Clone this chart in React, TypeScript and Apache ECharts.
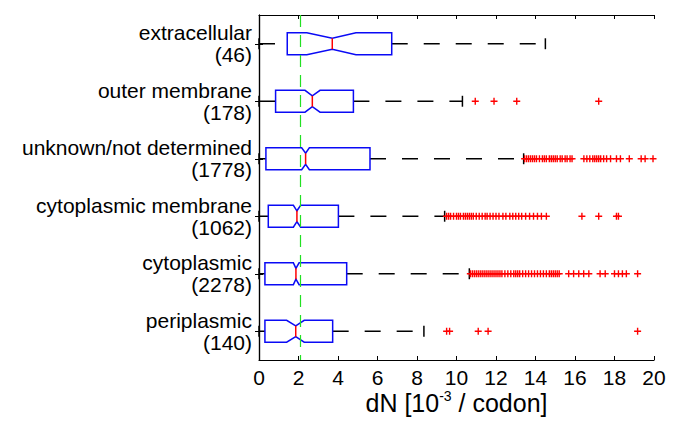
import React, { useEffect, useRef } from "react";
import * as echarts from "echarts";

// ---- data ----
const categories = [
  "extracellular\n(46)",
  "outer membrane\n(178)",
  "unknown/not determined\n(1778)",
  "cytoplasmic membrane\n(1062)",
  "cytoplasmic\n(2278)",
  "periplasmic\n(140)",
];
const lowerWhisker = [0, 0, 0, 0, 0, 0];
const q1 = [1.43, 0.84, 0.35, 0.47, 0.3, 0.3];
const notchLow = [2.42, 2.33, 2.16, 1.74, 1.74, 1.4];
const median = [3.71, 2.7, 2.36, 1.92, 1.87, 1.86];
const notchHigh = [4.91, 3.09, 2.55, 2.11, 2.03, 2.29];
const q3 = [6.72, 4.78, 5.62, 4.02, 4.44, 3.73];
const upperWhisker = [14.5, 10.3, 13.4, 9.4, 10.65, 8.35];

const outliersExtracellular: number[] = [];
const outliersOuterMembrane = [10.95, 11.9, 13.05, 17.2];
const outliersUnknown = [
  13.45, 13.55, 13.65, 13.75, 13.85, 13.95, 14.05, 14.2, 14.35, 14.45, 14.55, 14.7, 14.8, 14.9,
  15.0, 15.1, 15.25, 15.35, 15.5, 15.6, 15.75, 15.85, 16.45, 16.6, 16.75, 16.9, 17.0, 17.1,
  17.2, 17.3, 17.45, 17.6, 17.8, 18.1, 18.3, 18.75, 19.35, 19.55, 19.95,
];
const outliersCytoMembrane = [
  9.5, 9.6, 9.7, 9.85, 10.0, 10.1, 10.2, 10.35, 10.45, 10.55, 10.65, 10.75, 10.85, 11.0, 11.15,
  11.3, 11.45, 11.55, 11.7, 11.85, 12.0, 12.15, 12.35, 12.5, 12.7, 12.85, 13.0, 13.15, 13.3,
  13.5, 13.7, 13.9, 14.1, 14.3, 14.55, 16.35, 17.2, 18.1, 18.2,
];
const outliersCytoplasmic = [
  10.7, 10.8, 10.9, 11.0, 11.1, 11.2, 11.3, 11.4, 11.5, 11.6, 11.7, 11.8, 11.9, 12.0, 12.1,
  12.2, 12.3, 12.45, 12.6, 12.75, 12.9, 13.0, 13.1, 13.2, 13.35, 13.5, 13.65, 13.8, 13.95,
  14.1, 14.25, 14.4, 14.55, 14.7, 14.8, 14.9, 15.0, 15.1, 15.2, 15.68, 15.93, 16.19, 16.44,
  16.7, 17.27, 17.53, 18.0, 18.2, 18.4, 18.6, 19.17,
];
const outliersPeriplasmic = [9.5, 9.65, 11.1, 11.6, 19.17];
const outliers = [
  outliersExtracellular,
  outliersOuterMembrane,
  outliersUnknown,
  outliersCytoMembrane,
  outliersCytoplasmic,
  outliersPeriplasmic,
];
const referenceLine = 2.1;
const xMin = 0;
const xMax = 20;
const xInterval = 2;
const xTitle = "{n|dN [10}{s|-3}{n| / codon]}";

const FONT = "'Liberation Sans', Arial, Helvetica, sans-serif";

export default function App() {
  const ref = useRef<HTMLDivElement>(null);

  useEffect(() => {
    if (!ref.current) return;
    const chart = echarts.init(ref.current, null, { renderer: "svg" });

    const boxData = categories.map((_, i) => [
      i,
      lowerWhisker[i],
      q1[i],
      notchLow[i],
      median[i],
      notchHigh[i],
      q3[i],
      upperWhisker[i],
    ]);
    const outlierData: number[][] = [];
    outliers.forEach((arr, i) => arr.forEach((v) => outlierData.push([v, i])));

    const renderItem = (params: any, api: any) => {
      const idx = api.value(0);
      const c = (v: number) => api.coord([v, idx]);
      const band = api.size([0, 1])[1];
      const h = band * 0.19;
      const hn = h / 2;
      const [xLw, yc] = c(api.value(1));
      const xQ1 = c(api.value(2))[0];
      const xNL = c(api.value(3))[0];
      const xMed = c(api.value(4))[0];
      const xNH = c(api.value(5))[0];
      const xQ3 = c(api.value(6))[0];
      const xUw = c(api.value(7))[0];
      const blue = "#0a0af5";
      const wStyle = { stroke: "#000", lineWidth: 1.5, lineDash: [16, 16] };
      return {
        type: "group",
        children: [
          {
            type: "line",
            shape: { x1: xLw, y1: yc, x2: xQ1, y2: yc },
            style: wStyle,
          },
          {
            type: "line",
            shape: { x1: xQ3, y1: yc, x2: xUw, y2: yc },
            style: wStyle,
          },
          {
            type: "line",
            shape: { x1: xLw, y1: yc - hn, x2: xLw, y2: yc + hn },
            style: { stroke: "#000", lineWidth: 1.5 },
          },
          {
            type: "line",
            shape: { x1: xUw, y1: yc - hn, x2: xUw, y2: yc + hn },
            style: { stroke: "#000", lineWidth: 1.5 },
          },
          {
            type: "polygon",
            shape: {
              points: [
                [xQ1, yc - h],
                [xNL, yc - h],
                [xMed, yc - hn],
                [xNH, yc - h],
                [xQ3, yc - h],
                [xQ3, yc + h],
                [xNH, yc + h],
                [xMed, yc + hn],
                [xNL, yc + h],
                [xQ1, yc + h],
              ],
            },
            style: { stroke: blue, fill: "none", lineWidth: 1.5 },
          },
          {
            type: "line",
            shape: { x1: xMed, y1: yc - hn, x2: xMed, y2: yc + hn },
            style: { stroke: "#ff0000", lineWidth: 1.5 },
          },
        ],
      };
    };

    const labelStyle = { color: "#000", fontFamily: FONT, fontSize: 21 };

    chart.setOption({
      animation: false,
      backgroundColor: "#fff",
      grid: { left: 259, right: 31, top: 15, bottom: 74, containLabel: false },
      xAxis: [
        {
          type: "value",
          min: xMin,
          max: xMax,
          interval: xInterval,
          position: "bottom",
          axisLine: { show: true, lineStyle: { color: "#000", width: 1.2 } },
          axisTick: { show: true, inside: true, length: 4, lineStyle: { color: "#000" } },
          axisLabel: { ...labelStyle, margin: 7 },
          splitLine: { show: false },
        },
        {
          type: "value",
          min: xMin,
          max: xMax,
          interval: xInterval,
          position: "top",
          axisLine: { show: true, lineStyle: { color: "#000", width: 1.2 } },
          axisTick: { show: true, inside: true, length: 4, lineStyle: { color: "#000" } },
          axisLabel: { show: false },
          splitLine: { show: false },
        },
      ],
      yAxis: [
        {
          type: "category",
          data: categories,
          inverse: true,
          position: "left",
          axisLine: { show: true, lineStyle: { color: "#000", width: 1.2 } },
          axisTick: { show: true, inside: true, length: 4, alignWithLabel: true, lineStyle: { color: "#000" } },
          axisLabel: { ...labelStyle, lineHeight: 22, margin: 7, align: "right" },
          splitLine: { show: false },
        },
        {
          type: "category",
          data: categories,
          inverse: true,
          position: "right",
          axisLine: { show: true, lineStyle: { color: "#000", width: 1.2 } },
          axisTick: { show: true, inside: true, length: 4, alignWithLabel: true, lineStyle: { color: "#000" } },
          axisLabel: { show: false },
          splitLine: { show: false },
        },
      ],
      graphic: [
        {
          type: "text",
          x: 456.5,
          y: 403,
          style: {
            text: xTitle,
            textAlign: "center",
            textVerticalAlign: "middle",
            fill: "#000",
            rich: {
              n: { fontFamily: FONT, fontSize: 25, lineHeight: 28, verticalAlign: "middle", fill: "#000" },
              s: { fontFamily: FONT, fontSize: 14, lineHeight: 14, verticalAlign: "top", fill: "#000" },
            },
          },
        },
      ],
      series: [
        {
          type: "custom",
          xAxisIndex: 0,
          yAxisIndex: 0,
          data: boxData,
          encode: { x: [1, 2, 3, 4, 5, 6, 7], y: 0 },
          renderItem,
          silent: true,
          z: 2,
        },
        {
          type: "scatter",
          xAxisIndex: 0,
          yAxisIndex: 0,
          data: outlierData,
          symbol: "path://M0 5H10M5 0V10",
          symbolSize: 7,
          itemStyle: { color: "#ff0000", borderColor: "#ff0000", borderWidth: 1.4, opacity: 1 },
          silent: true,
          z: 3,
          markLine: {
            silent: true,
            symbol: ["none", "none"],
            label: { show: false },
            lineStyle: { color: "#22e022", width: 1.2, type: [12, 8] },
            data: [{ xAxis: referenceLine }],
          },
        },
      ],
    });

    return () => chart.dispose();
  }, []);

  return (
    <div
      ref={ref}
      style={{ position: "absolute", left: 0, top: 0, width: 685, height: 434 }}
    />
  );
}
